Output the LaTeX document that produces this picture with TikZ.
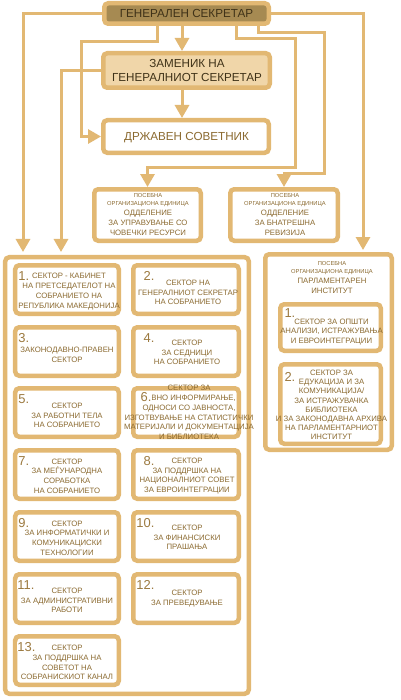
\documentclass[tikz,border=0pt]{standalone}
\usepackage{fontspec}
\setmainfont{Liberation Sans}
\usetikzlibrary{arrows.meta,calc}
\definecolor{gold}{HTML}{E2B873}
\definecolor{gsfill}{HTML}{A68A52}
\definecolor{zamfill}{HTML}{F0D6A9}
\definecolor{tbrown}{HTML}{8B6A30}
\definecolor{tdark}{HTML}{3F3218}
\definecolor{nbrown}{HTML}{9C7A40}
\begin{document}
\begin{tikzpicture}[x=1bp,y=-1bp,
 box/.style={draw=gold, line width=4.5bp, rounded corners=4bp, fill=white, inner sep=0pt},
 conn/.style={draw=gold, line width=3bp},
 arr/.style={conn, -{Triangle[width=14bp,length=13bp]}},
 txt/.style={text=tbrown, align=center, font=\fontsize{7.8}{9.8}\selectfont, inner sep=0pt},
 tinytxt/.style={text=tbrown, align=center, font=\fontsize{5.8}{8}\selectfont, inner sep=0pt},
 bigtxt/.style={text=tdark, align=center, font=\fontsize{11.7}{14.5}\selectfont, inner sep=0pt},
 num/.style={text=nbrown, font=\fontsize{13}{13}\selectfont, inner sep=0.3bp, fill=white},
 lsec/.style={box, minimum width=103.5bp, minimum height=48.5bp},
 rsec/.style={box, minimum width=105.5bp, minimum height=48.5bp},
]
\useasboundingbox[fill=white] (0,0) rectangle (400,700);

% top boxes
\node[box, fill=gsfill, minimum width=164.5bp, minimum height=20.5bp] (gs) at (186.5,13.5) {};
\node[bigtxt] (gst) at (186.5,13.5) {ГЕНЕРАЛЕН СЕКРЕТАР};
\node[box, fill=zamfill, minimum width=166.5bp, minimum height=34.5bp] (zam) at (186.5,70.5) {};
\node[bigtxt, text=tdark] (zamt) at (187,70.5) {ЗАМЕНИК НА\\ГЕНЕРАЛНИОТ СЕКРЕТАР};
\node[box, minimum width=165.5bp, minimum height=32.5bp] (ds) at (186,136.5) {};
\node[bigtxt, text=tbrown] (dst) at (186.5,137.5) {ДРЖАВЕН СОВЕТНИК};

% special units
\node[box, minimum width=106.5bp, minimum height=51.5bp] (oa) at (147.5,215) {};
\node[tinytxt] (oat1) at (148,200) {ПОСЕБНА\\ОРГАНИЗАЦИОНА ЕДИНИЦА};
\node[txt] (oat2) at (148,223) {ОДДЕЛЕНИЕ\\ЗА УПРАВУВАЊЕ СО\\ЧОВЕЧКИ РЕСУРСИ};
\node[box, minimum width=107.5bp, minimum height=51.5bp] (ob) at (284,215) {};
\node[tinytxt] (obt1) at (285,200) {ПОСЕБНА\\ОРГАНИЗАЦИОНА ЕДИНИЦА};
\node[txt] (obt2) at (285,223) {ОДДЕЛЕНИЕ\\ЗА БНАТРЕШНА\\РЕВИЗИЈА};

% left panel
\node[box, minimum width=243.5bp, minimum height=436.5bp] (lp) at (127,475.5) {};

\node[lsec] (s1) at (67,289.5) {};
\node[rsec] (s2) at (186,289.5) {};
\node[lsec] (s3) at (67,351.5) {};
\node[rsec] (s4) at (186,351.5) {};
\node[lsec] (s5) at (67,412.5) {};
\node[rsec] (s6) at (186,412.5) {};
\node[lsec] (s7) at (67,474.5) {};
\node[rsec] (s8) at (186,474.5) {};
\node[lsec] (s9) at (67,536.5) {};
\node[rsec] (s10) at (186,536.5) {};
\node[lsec] (s11) at (67,598.5) {};
\node[rsec] (s12) at (186,598.5) {};
\node[lsec] (s13) at (67,660.5) {};

\node[txt] (t1) at ($(s1.center)+(2,2)$) {СЕКТОР - КАБИНЕТ\\НА ПРЕТСЕДАТЕЛОТ НА\\СОБРАНИЕТО НА\\РЕПУБЛИКА МАКЕДОНИЈА};
\node[txt] (t2) at ($(s2.center)+(2,3)$) {СЕКТОР НА\\ГЕНЕРАЛНИОТ СЕКРЕТАР\\НА СОБРАНИЕТО};
\node[txt] (t3) at ($(s3.center)+(0,3.5)$) {ЗАКОНОДАВНО-ПРАВЕН\\СЕКТОР};
\node[txt] (t4) at ($(s4.center)+(1,1)$) {СЕКТОР\\ЗА СЕДНИЦИ\\НА СОБРАНИЕТО};
\node[txt] (t5) at ($(s5.center)+(0,3)$) {СЕКТОР\\ЗА РАБОТНИ ТЕЛА\\НА СОБРАНИЕТО};
\node[txt] (t6) at ($(s6.center)+(3,0)$) {СЕКТОР ЗА\\ЈАВНО ИНФОРМИРАЊЕ,\\ОДНОСИ СО ЈАВНОСТА,\\ИЗГОТВУВАЊЕ НА СТАТИСТИЧКИ\\МАТЕРИЈАЛИ И ДОКУМЕНТАЦИЈА\\И БИБЛИОТЕКА};
\node[txt] (t7) at ($(s7.center)+(0,1.5)$) {СЕКТОР\\ЗА МЕЃУНАРОДНА\\СОРАБОТКА\\НА СОБРАНИЕТО};
\node[txt] (t8) at ($(s8.center)+(1,1.5)$) {СЕКТОР\\ЗА ПОДДРШКА НА\\НАЦИОНАЛНИОТ СОВЕТ\\ЗА ЕВРОИНТЕГРАЦИИ};
\node[txt] (t9) at ($(s9.center)+(0,1.5)$) {СЕКТОР\\ЗА ИНФОРМАТИЧКИ И\\КОМУНИКАЦИСКИ\\ТЕХНОЛОГИИ};
\node[txt] (t10) at ($(s10.center)+(1,1)$) {СЕКТОР\\ЗА ФИНАНСИСКИ\\ПРАШАЊА};
\node[txt] (t11) at ($(s11.center)+(0,2)$) {СЕКТОР\\ЗА АДМИНИСТРАТИВНИ\\РАБОТИ};
\node[txt] (t12) at ($(s12.center)+(1,0)$) {СЕКТОР\\ЗА ПРЕВЕДУВАЊЕ};
\node[txt] (t13) at ($(s13.center)+(0,2)$) {СЕКТОР\\ЗА ПОДДРШКА НА\\СОВЕТОТ НА\\СОБРАНИСКИОТ КАНАЛ};

\node[num, anchor=base west] (n1) at ($(s1.north west)+(5,17)$) {1.};
\node[num, anchor=base east] (n2) at ($(s2.north west)+(24,17)$) {2.};
\node[num, anchor=base west] (n3) at ($(s3.north west)+(5,17)$) {3.};
\node[num, anchor=base east] (n4) at ($(s4.north west)+(24,17)$) {4.};
\node[num, anchor=base west] (n5) at ($(s5.north west)+(5,17)$) {5.};
\node[num, anchor=base east] (n6) at ($(s6.north west)+(21,15)$) {6.};
\node[num, anchor=base west] (n7) at ($(s7.north west)+(5,17)$) {7.};
\node[num, anchor=base east] (n8) at ($(s8.north west)+(24,17)$) {8.};
\node[num, anchor=base west] (n9) at ($(s9.north west)+(5,17)$) {9.};
\node[num, anchor=base east] (n10) at ($(s10.north west)+(24,17)$) {10.};
\node[num, anchor=base west] (n11) at ($(s11.north west)+(4,17)$) {11.};
\node[num, anchor=base east] (n12) at ($(s12.north west)+(24,17)$) {12.};
\node[num, anchor=base west] (n13) at ($(s13.north west)+(4,17)$) {13.};

% right panel
\node[box, minimum width=126.5bp, minimum height=195.5bp] (rp) at (328.5,352) {};
\node[tinytxt] (rpt1) at (332,268) {ПОСЕБНА\\ОРГАНИЗАЦИОНА ЕДИНИЦА};
\node[txt, font=\fontsize{7.8}{10}\selectfont] (rpt2) at (332,286) {ПАРЛАМЕНТАРЕН\\ИНСТИТУТ};
\node[box, minimum width=100.5bp, minimum height=46.5bp] (r1) at (330.5,327.5) {};
\node[box, minimum width=100.5bp, minimum height=79.5bp] (r2) at (330.5,404) {};
\node[txt] (r1t) at ($(r1.center)+(1,4.5)$) {СЕКТОР ЗА ОПШТИ\\АНАЛИЗИ, ИСТРАЖУВАЊА\\И ЕВРОИНТЕГРАЦИИ};
\node[txt, font=\fontsize{7.8}{9.2}\selectfont] (r2t) at ($(r2.center)+(1,1)$) {СЕКТОР ЗА\\ЕДУКАЦИЈА И ЗА\\КОМУНИКАЦИЈА/\\ЗА ИСТРАЖУВАЧКА\\БИБЛИОТЕКА\\И ЗА ЗАКОНОДАВНА АРХИВА\\НА ПАРЛАМЕНТАРНИОТ\\ИНСТИТУТ};
\node[num, anchor=base west] (rn1) at ($(r1.north west)+(6,15)$) {1.};
\node[num, anchor=base west] (rn2) at ($(r2.north west)+(6,19)$) {2.};

% connector helper coordinates
\coordinate (a1) at (23,0);
\coordinate (a2) at (61,0);
\coordinate (b1) at (157,0);
\coordinate (b2) at (81,42);
\coordinate (c1) at (182,0);
\coordinate (e1) at (236,0);
\coordinate (e2) at (295,39);
\coordinate (e3) at (0,167);
\coordinate (f1) at (258,0);
\coordinate (f2) at (324,33);
\coordinate (f3) at (0,173);
\coordinate (g1) at (363,0);

% connectors
\draw[arr, shorten >=3bp] (gs.west) -| (lp.north -| a1);
\draw[arr, shorten >=3bp] (zam.west) -| (lp.north -| a2);
\draw[arr] (gs.south -| b1) |- (b2) |- (ds.west);
\draw[arr] (gs.south -| c1) -- (zam.north -| c1);
\draw[arr] (zam.south -| c1) -- (ds.north -| c1);
\draw[arr] (gs.south -| e1) |- (e2) |- (oa.north |- e3) -- (oa.north);
\draw[arr] (gs.south -| f1) |- (f2) |- (ob.north |- f3) -- (ob.north);
\draw[arr, shorten >=2bp] (gs.east) -| (rp.north -| g1);
\end{tikzpicture}
\end{document}
